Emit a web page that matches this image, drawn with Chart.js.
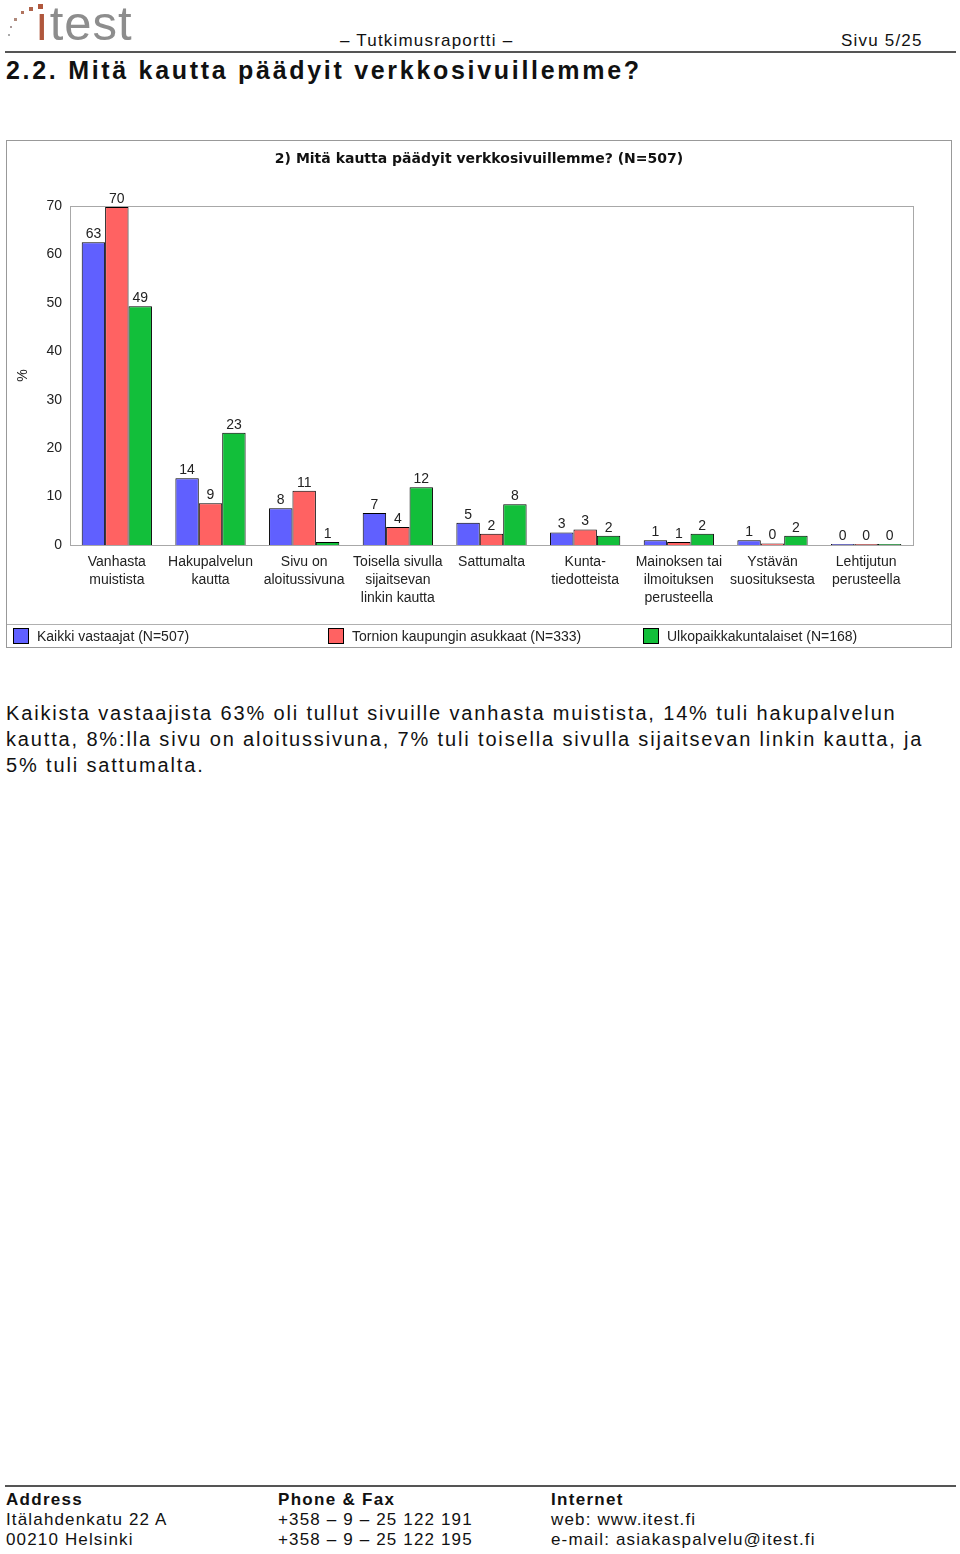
<!DOCTYPE html>
<html>
<head>
<meta charset="utf-8">
<script src="https://cdn.jsdelivr.net/npm/chart.js@4.4.1/dist/chart.umd.min.js"></script>
<style>
  body { margin: 0; background: #fff; width: 960px; height: 1554px; position: relative; font-family: "Liberation Sans", Arial, sans-serif; color: #111; }
  .abs { position: absolute; white-space: nowrap; }
  .logo { left: 35px; top: -5px; font-size: 49px; color: #8d8d8d; letter-spacing: 1px; }
  .logo .i { color: #b0573c; }
  .dot { position: absolute; }
  .hline { position: absolute; left: 5px; width: 951px; height: 2px; background: #555; }
  .hdr { font-size: 17px; letter-spacing: 1.2px; top: 31px; }
  h1 { position: absolute; left: 6px; top: 56px; margin: 0; font-size: 25px; letter-spacing: 2.7px; font-weight: bold; white-space: nowrap; }
  #box { position: absolute; left: 6px; top: 140px; width: 946px; height: 508px; border: 1px solid #999; box-sizing: border-box; }
  .body { left: 6px; top: 700px; font-size: 20px; line-height: 26px; letter-spacing: 1.85px; }
  .foot { font-size: 17px; line-height: 20px; letter-spacing: 1.15px; top: 1490px; }
  .foot b { letter-spacing: 1.3px; }
</style>
</head>
<body>
<div class="abs logo"><span class="i">ı</span>test</div>
<div class="dot" style="left:8px;top:34px;width:2px;height:2px;background:#aaa"></div>
<div class="dot" style="left:10px;top:26px;width:2px;height:2px;background:#a99"></div>
<div class="dot" style="left:14px;top:18px;width:3px;height:3px;background:#b08a7c"></div>
<div class="dot" style="left:21px;top:11px;width:3px;height:3px;background:#b0735e"></div>
<div class="dot" style="left:29px;top:7px;width:4px;height:4px;background:#b0634a"></div>
<div class="dot" style="left:38px;top:4px;width:5px;height:5px;background:#b0573c"></div>
<div class="abs hdr" style="left:340px">– Tutkimusraportti –</div>
<div class="abs hdr" style="left:841px">Sivu 5/25</div>
<div class="hline" style="top:51px"></div>
<h1>2.2. Mitä kautta päädyit verkkosivuillemme?</h1>

<div id="box"><canvas id="quesChart" width="944" height="506"></canvas></div>

<div class="abs body">Kaikista vastaajista 63% oli tullut sivuille vanhasta muistista, 14% tuli hakupalvelun<br>kautta, 8%:lla sivu on aloitussivuna, 7% tuli toisella sivulla sijaitsevan linkin kautta, ja<br>5% tuli sattumalta.</div>

<div class="hline" style="top:1485px"></div>
<div class="abs foot" style="left:6px"><b>Address</b><br>Itälahdenkatu 22 A<br>00210 Helsinki</div>
<div class="abs foot" style="left:278px"><b>Phone &amp; Fax</b><br>+358 – 9 – 25 122 191<br>+358 – 9 – 25 122 195</div>
<div class="abs foot" style="left:551px"><b>Internet</b><br>web: www.itest.fi<br>e-mail: asiakaspalvelu@itest.fi</div>

<script>
// data
const chartTitle = "2) Mitä kautta päädyit verkkosivuillemme? (N=507)";
const categories = [
  ["Vanhasta", "muistista"],
  ["Hakupalvelun", "kautta"],
  ["Sivu on", "aloitussivuna"],
  ["Toisella sivulla", "sijaitsevan", "linkin kautta"],
  ["Sattumalta"],
  ["Kunta-", "tiedotteista"],
  ["Mainoksen tai", "ilmoituksen", "perusteella"],
  ["Ystävän", "suosituksesta"],
  ["Lehtijutun", "perusteella"]
];
const seriesNames = ["Kaikki vastaajat (N=507)", "Tornion kaupungin asukkaat (N=333)", "Ulkopaikkakuntalaiset (N=168)"];
const allValues   = [62.5, 13.8, 7.6, 6.6, 4.6, 2.6, 1.0, 1.0, 0.2];
const tornioValues = [69.8, 8.6, 11.2, 3.7, 2.3, 3.2, 0.6, 0.3, 0.2];
const ulkoValues  = [49.3, 23.2, 0.6, 11.9, 8.4, 1.9, 2.3, 1.9, 0.2];
const yTicks = [0, 10, 20, 30, 40, 50, 60, 70];

const colors = ["#6060ff", "#ff6262", "#12bf3a"];
const chartFont = "'Liberation Sans', Arial, sans-serif";

// value labels above bars
const valueLabels = {
  id: "valueLabels",
  afterDatasetsDraw(chart) {
    const ctx = chart.ctx;
    ctx.save();
    ctx.font = "14px " + chartFont;
    ctx.fillStyle = "#222";
    ctx.textAlign = "center";
    ctx.textBaseline = "bottom";
    chart.data.datasets.forEach((ds, i) => {
      chart.getDatasetMeta(i).data.forEach((bar, j) => {
        ctx.fillText(Math.round(ds.data[j]), bar.x, bar.y - 1);
      });
    });
    ctx.restore();
  }
};

// title, frame around plot + legend strip at bottom
const frameLegend = {
  id: "frameLegend",
  beforeDatasetsDraw(chart) {
    const { ctx, chartArea: a } = chart;
    ctx.save();
    ctx.strokeStyle = "#a8a8a8";
    ctx.lineWidth = 1;
    ctx.strokeRect(Math.round(a.left) + 0.5, Math.round(a.top) + 0.5, Math.round(a.right - a.left), Math.round(a.bottom - a.top));
    ctx.font = "bold 14px 'DejaVu Sans', sans-serif";
    ctx.fillStyle = "#111";
    ctx.textAlign = "center";
    ctx.textBaseline = "middle";
    ctx.fillText(chartTitle, chart.width / 2, 18);
    ctx.restore();
  },
  afterDraw(chart) {
    const ctx = chart.ctx;
    const y = 483;
    ctx.save();
    ctx.strokeStyle = "#b0b0b0";
    ctx.beginPath();
    ctx.moveTo(0, y + 0.5);
    ctx.lineTo(chart.width, y + 0.5);
    ctx.stroke();
    ctx.font = "14px " + chartFont;
    ctx.textBaseline = "middle";
    chart.data.datasets.forEach((ds, i) => {
      const x = 6 + i * 315;
      ctx.fillStyle = ds.backgroundColor;
      ctx.fillRect(x, 487, 16, 16);
      ctx.strokeStyle = "#000";
      ctx.strokeRect(x + 0.5, 487.5, 15, 15);
      ctx.fillStyle = "#222";
      ctx.fillText(ds.label, x + 24, 496);
    });
    ctx.restore();
  }
};

new Chart("quesChart", {
  type: "bar",
  data: {
    labels: categories,
    datasets: [
      { label: seriesNames[0], data: allValues, backgroundColor: colors[0] },
      { label: seriesNames[1], data: tornioValues, backgroundColor: colors[1] },
      { label: seriesNames[2], data: ulkoValues, backgroundColor: colors[2] }
    ].map(d => Object.assign(d, { borderColor: "#000", borderWidth: 1, categoryPercentage: 0.75, barPercentage: 1.0 }))
  },
  options: {
    responsive: false,
    animation: false,
    layout: { padding: { left: 0, right: 38, top: 65, bottom: 24 } },
    plugins: {
      legend: { display: false },
      tooltip: { enabled: false },
      title: { display: false }
    },
    scales: {
      x: {
        grid: { display: false },
        border: { color: "#888" },
        ticks: {
          color: "#222",
          font: { family: chartFont, size: 14, lineHeight: 1.29 },
          padding: 0,
          maxRotation: 0,
          autoSkip: false
        },
        afterFit(s) { s.height = 78; }
      },
      y: {
        min: 0,
        max: 70,
        afterBuildTicks(s) { s.ticks = yTicks.map(v => ({ value: v })); },
        grid: { display: false, drawTicks: false },
        border: { color: "#888" },
        ticks: { color: "#222", font: { family: chartFont, size: 14 }, padding: 8 },
        title: { display: true, text: "%", color: "#222", font: { family: chartFont, size: 14 }, padding: 8 },
        afterFit(s) { s.width = 63; }
      }
    }
  },
  plugins: [valueLabels, frameLegend]
});
</script>
</body>
</html>
